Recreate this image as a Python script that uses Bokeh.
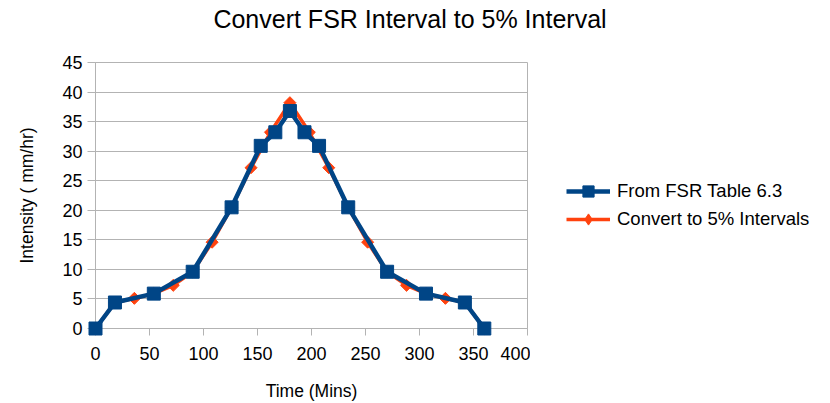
import math
from bokeh.plotting import figure
from bokeh.layouts import column, row
from bokeh.models import Legend, LegendItem, Range1d, FixedTicker, Div
from bokeh.embed import file_html
from bokeh.resources import INLINE

# Data
fsr_time = [0, 18, 54, 90, 126, 153, 166.5, 180, 193.5, 207, 234, 270, 306, 342, 360]
fsr_intensity = [0, 4.4, 5.9, 9.6, 20.5, 30.9, 33.2, 36.8, 33.2, 30.9, 20.5, 9.6, 5.9, 4.4, 0]

pct5_time = [0, 18, 36, 54, 72, 90, 108, 126, 144, 162, 180,
             198, 216, 234, 252, 270, 288, 306, 324, 342, 360]
pct5_intensity = [0, 4.4, 5.1, 5.9, 7.3, 9.6, 14.6, 20.5, 27.2, 33.2, 38.2,
                  33.2, 27.2, 20.5, 14.6, 9.6, 7.3, 5.9, 5.1, 4.4, 0]

x_ticks = [0, 50, 100, 150, 200, 250, 300, 350, 400]
y_ticks = [0, 5, 10, 15, 20, 25, 30, 35, 40, 45]

title_text = "Convert FSR Interval to 5% Interval"
x_title = "Time (Mins)"
y_title = "Intensity ( mm/hr)"
series_names = ["From FSR Table 6.3", "Convert to 5% Intervals"]

BLUE = "#004586"
ORANGE = "#ff420e"
GRID = "#b3b3b3"
FONT = "Liberation Sans"

W, H = 830, 403
TITLE_H = 40            # strip holding the chart title
MAIN_W = 530            # plot part (frame spans x 95..527)
LEG_W = W - MAIN_W      # legend part
BODY_H = H - TITLE_H
FRAME_BOTTOM = 328      # in page pixels

# ---- title strip ----
title = Div(text=title_text, width=W, height=TITLE_H, margin=0,
            styles={"font-family": "'Liberation Sans'", "font-size": "25px",
                    "line-height": "39px", "color": "#000000",
                    "text-align": "center", "white-space": "nowrap",
                    "box-sizing": "border-box", "padding-right": "10px",
                    "overflow": "visible"})

# ---- main plot ----
p = figure(width=MAIN_W, height=BODY_H, output_backend="svg", toolbar_location=None,
           x_range=Range1d(0, 400), y_range=Range1d(0, 45),
           min_border_left=95, min_border_right=MAIN_W - 527,
           min_border_top=62 - TITLE_H, min_border_bottom=H - FRAME_BOTTOM)
p.title = None
p.background_fill_color = "white"
p.border_fill_color = "white"
p.outline_line_color = GRID

p.xgrid.visible = False
p.ygrid.grid_line_color = GRID
p.ygrid.grid_line_width = 1

for ax in (p.xaxis[0], p.yaxis[0]):
    ax.axis_line_color = GRID
    ax.major_tick_line_color = GRID
    ax.minor_tick_line_color = None
    ax.major_tick_in = 0
    ax.major_label_text_font = FONT
    ax.major_label_text_font_size = "18px"
    ax.major_label_text_color = "#000000"
    ax.axis_label_text_font = FONT
    ax.axis_label_text_font_size = "17.5px"
    ax.axis_label_text_font_style = "normal"
    ax.axis_label_text_color = "#000000"

p.xaxis[0].ticker = FixedTicker(ticks=x_ticks)
p.yaxis[0].ticker = FixedTicker(ticks=y_ticks)
p.xaxis[0].major_tick_out = 7
p.yaxis[0].major_tick_out = 8
p.xaxis[0].major_label_standoff = 11
p.yaxis[0].major_label_standoff = 5
p.xaxis[0].axis_label = x_title
p.yaxis[0].axis_label = y_title
p.xaxis[0].axis_label_standoff = 18
p.yaxis[0].axis_label_standoff = 22

line_o = dict(line_color=ORANGE, line_width=3.5)
mark_o = dict(marker="square", size=8.5, angle=math.pi / 4, fill_color=ORANGE, line_color=ORANGE)
line_b = dict(line_color=BLUE, line_width=4.5)
mark_b = dict(marker="square", size=13, fill_color=BLUE, line_color=BLUE)

p.line(pct5_time, pct5_intensity, level="overlay", **line_o)
p.scatter(pct5_time, pct5_intensity, level="overlay", **mark_o)
p.line(fsr_time, fsr_intensity, level="overlay", **line_b)
p.scatter(fsr_time, fsr_intensity, level="overlay", **mark_b)

# ---- legend part (its renderers repeat the series but fall outside its view) ----
pl = figure(width=LEG_W, height=BODY_H, output_backend="svg", toolbar_location=None,
            x_range=Range1d(-2, -1), y_range=Range1d(-2, -1),
            x_axis_location=None, y_axis_location=None, min_border=0)
pl.title = None
pl.outline_line_color = None
pl.background_fill_color = "white"
pl.border_fill_color = "white"
pl.xgrid.visible = False
pl.ygrid.visible = False
lb = pl.line(fsr_time, fsr_intensity, **line_b)
mb = pl.scatter(fsr_time, fsr_intensity, **mark_b)
lo = pl.line(pct5_time, pct5_intensity, **line_o)
mo = pl.scatter(pct5_time, pct5_intensity, marker="diamond", size=8.5,
                fill_color=ORANGE, line_color=ORANGE)

legend = Legend(items=[
    LegendItem(label=series_names[0], renderers=[lb, mb]),
    LegendItem(label=series_names[1], renderers=[lo, mo]),
], location=(566 - MAIN_W, FRAME_BOTTOM - 233))
legend.padding = 0
legend.margin = 0
legend.spacing = 0
legend.glyph_width = 44
legend.glyph_height = 28
legend.label_standoff = 7
legend.label_text_font = FONT
legend.label_text_font_size = "18.5px"
legend.label_text_color = "#000000"
legend.border_line_color = None
legend.background_fill_alpha = 0
pl.add_layout(legend)

layout = column(title, row(p, pl))
open("out.html", "w").write(file_html(layout, INLINE))
